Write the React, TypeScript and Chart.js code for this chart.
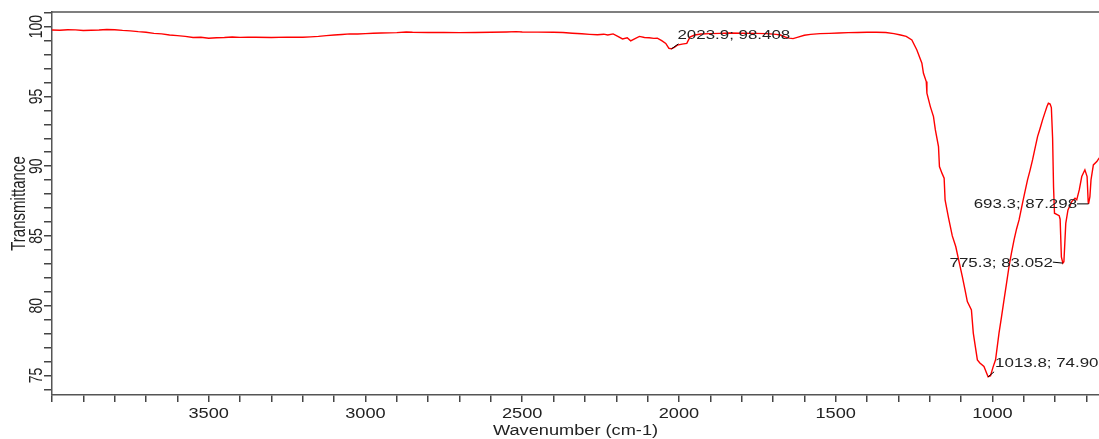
import React, { useEffect, useRef } from 'react';
import { Chart, registerables } from 'chart.js';

Chart.register(...registerables);

// ---- data ----
const wavenumbers = [
  4000, 3975, 3950, 3925, 3900, 3875, 3850, 3825, 3800, 3775, 3750, 3725, 3700, 3675, 3650, 3625, 3600, 3575, 3550, 3525,
  3500, 3475, 3450, 3425, 3400, 3375, 3350, 3300, 3250, 3200, 3175, 3150, 3125, 3100, 3075, 3050, 3025, 3000, 2975, 2950,
  2900, 2870, 2850, 2800, 2750, 2700, 2650, 2600, 2550, 2520, 2500, 2450, 2400, 2370, 2340, 2310, 2285, 2260, 2240, 2227,
  2210, 2195, 2180, 2165, 2154, 2140, 2126, 2110, 2095, 2080, 2069, 2055, 2042, 2032, 2023.9, 2015, 2005, 1990, 1975, 1965,
  1950, 1930, 1900, 1870, 1840, 1800, 1760, 1720, 1690, 1676, 1660, 1648, 1636, 1620, 1600, 1580, 1550, 1520, 1490, 1460,
  1430, 1400, 1370, 1340, 1314, 1293, 1275, 1257, 1241, 1225, 1220, 1211, 1209, 1198, 1188, 1182, 1172, 1169, 1161, 1154,
  1151, 1140, 1128, 1117, 1106, 1096, 1088, 1080, 1067, 1061, 1054, 1048, 1040, 1027, 1019, 1013.8, 1006, 998, 990, 979,
  971, 963, 955, 947, 939, 931, 923, 915, 904, 896, 888, 880, 872, 864, 856, 848, 840, 833, 826, 821.5,
  816, 812, 808, 805, 802, 795, 787, 784, 780, 775.3, 772, 769, 766, 759, 747, 736.5, 731, 723, 715, 705,
  698, 694.5, 693.3, 689, 685.5, 678, 667, 660, 650,
];
const transmittance = [
  99.76, 99.74, 99.78, 99.77, 99.72, 99.74, 99.76, 99.8, 99.78, 99.73, 99.7, 99.64, 99.6, 99.52, 99.48, 99.4, 99.36, 99.3, 99.22, 99.24,
  99.17, 99.2, 99.22, 99.26, 99.23, 99.25, 99.24, 99.22, 99.25, 99.24, 99.27, 99.3, 99.36, 99.4, 99.44, 99.48, 99.47, 99.5, 99.53, 99.55,
  99.57, 99.62, 99.6, 99.58, 99.58, 99.57, 99.58, 99.6, 99.62, 99.64, 99.62, 99.61, 99.6, 99.58, 99.53, 99.49, 99.45, 99.42, 99.46, 99.4,
  99.48, 99.3, 99.12, 99.2, 98.98, 99.15, 99.3, 99.22, 99.2, 99.16, 99.18, 99.0, 98.8, 98.45, 98.408, 98.52, 98.68, 98.75, 98.8, 99.25,
  99.4, 99.47, 99.5, 99.52, 99.54, 99.53, 99.52, 99.5, 99.45, 99.4, 99.25, 99.18, 99.14, 99.25, 99.38, 99.45, 99.5, 99.52, 99.55, 99.57,
  99.58, 99.6, 99.6, 99.58, 99.5, 99.4, 99.3, 99.05, 98.33, 97.38, 96.66, 96.06, 95.23, 94.27, 93.55, 92.6, 91.4, 89.97, 89.5, 89.14,
  87.59, 86.3, 85.0, 84.24, 83.1, 82.09, 81.2, 80.3, 79.7, 78.04, 77.0, 76.12, 75.9, 75.64, 75.2, 74.902, 74.98, 75.6, 76.12, 78.04,
  79.2, 80.42, 81.6, 82.81, 83.8, 84.72, 85.5, 86.15, 87.35, 88.2, 89.02, 89.7, 90.45, 91.3, 92.12, 92.7, 93.32, 93.8, 94.27, 94.51,
  94.45, 94.2, 92.0, 88.5, 86.63, 86.55, 86.45, 86.2, 83.5, 83.052, 83.15, 84.5, 85.9, 86.87, 87.46, 87.7, 87.59, 88.3, 89.26, 89.74,
  89.26, 87.46, 87.298, 87.82, 89.02, 90.09, 90.33, 90.57, 90.7,
];
const peakWavenumbers = [2023.9, 1013.8, 775.3, 693.3];
const peakTransmittance = [98.408, 74.902, 83.052, 87.298];
const xMajorTicks = [3500, 3000, 2500, 2000, 1500, 1000];
const yMajorTicks = [75, 80, 85, 90, 95, 100];
const xAxisTitle = 'Wavenumber (cm-1)';
const yAxisTitle = 'Transmittance';

// ---- layout / style ----
const W = 1099;
const H = 439;
const STRETCH = 1.3;
const FONT = "'Liberation Sans', Arial, sans-serif";
const TEXT_COLOR = '#222';
const AXIS_COLOR = '#555';
const labelPlacement = [
  { dx: 6, dy: -9.5, align: 'left', lx: 7, ly: -5 },
  { dx: 7, dy: -10, align: 'left', lx: 6, ly: -5 },
  { dx: -10, dy: 4, align: 'right', lx: -10, ly: -1 },
  { dx: -11.5, dy: 4.5, align: 'right', lx: -11.5, ly: 0 },
];

function drawText(
  ctx: CanvasRenderingContext2D,
  text: string,
  x: number,
  y: number,
  size: number,
  align: CanvasTextAlign,
  rotate: boolean,
) {
  ctx.save();
  ctx.translate(x, y);
  ctx.scale(STRETCH, 1);
  if (rotate) ctx.rotate(-Math.PI / 2);
  ctx.font = `${size}px ${FONT}`;
  ctx.textAlign = align;
  ctx.textBaseline = 'alphabetic';
  ctx.fillStyle = TEXT_COLOR;
  ctx.fillText(text, 0, 0);
  ctx.restore();
}

const textPlugin = {
  id: 'ftirText',
  afterDraw(chart: any) {
    const { ctx, chartArea, scales } = chart;
    const xs = scales.x;
    const ys = scales.y;
    ctx.save();
    // top frame line
    ctx.strokeStyle = AXIS_COLOR;
    ctx.lineWidth = 1.5;
    ctx.beginPath();
    ctx.moveTo(chartArea.left, chartArea.top);
    ctx.lineTo(chartArea.right, chartArea.top);
    ctx.stroke();

    // x tick labels
    xs.ticks.forEach((t: any) => {
      if (xMajorTicks.includes(t.value)) {
        drawText(ctx, String(t.value), xs.getPixelForValue(t.value), 418, 14, 'center', false);
      }
    });
    // y tick labels
    ys.ticks.forEach((t: any) => {
      if (yMajorTicks.includes(t.value)) {
        drawText(ctx, String(t.value), 42, ys.getPixelForValue(t.value), 14, 'center', true);
      }
    });
    // axis titles
    drawText(ctx, xAxisTitle, (chartArea.left + chartArea.right) / 2, 435, 14, 'center', false);
    drawText(ctx, yAxisTitle, 25, (chartArea.top + chartArea.bottom) / 2, 15, 'center', true);

    // peak annotations
    peakWavenumbers.forEach((wn, i) => {
      const t = peakTransmittance[i];
      const p = labelPlacement[i];
      const px = xs.getPixelForValue(wn);
      const py = ys.getPixelForValue(t);
      ctx.strokeStyle = '#000';
      ctx.lineWidth = 1;
      ctx.beginPath();
      ctx.moveTo(px, py);
      ctx.lineTo(px + p.lx, py + p.ly);
      ctx.stroke();
      drawText(ctx, `${wn.toFixed(1)}; ${t.toFixed(3)}`, px + p.dx, py + p.dy, 13, p.align as CanvasTextAlign, false);
    });
    ctx.restore();
  },
};

export default function App() {
  const canvasRef = useRef<HTMLCanvasElement | null>(null);

  useEffect(() => {
    const canvas = canvasRef.current;
    if (!canvas) return;
    const points = wavenumbers.map((x, i) => ({ x, y: transmittance[i] }));
    const chart = new Chart(canvas, {
      type: 'line',
      data: {
        datasets: [
          {
            data: points,
            borderColor: 'rgb(255, 0, 0)',
            borderWidth: 1.4,
            pointRadius: 0,
            tension: 0,
            fill: false,
          },
        ],
      },
      options: {
        animation: false,
        responsive: false,
        maintainAspectRatio: false,
        layout: { padding: { top: 12, left: 0, right: 0, bottom: 0 } },
        plugins: {
          legend: { display: false },
          tooltip: { enabled: false },
        },
        scales: {
          x: {
            type: 'linear',
            reverse: true,
            min: 660,
            max: 4000,
            afterFit: (s: any) => {
              s.height = H - 395;
            },
            ticks: { stepSize: 100, includeBounds: false, autoSkip: false, display: false },
            grid: {
              drawOnChartArea: false,
              drawTicks: true,
              tickLength: 7,
              color: '#444',
              lineWidth: 1.5,
            },
            border: { display: true, color: AXIS_COLOR, width: 1.5 },
            title: { display: false },
          },
          y: {
            type: 'linear',
            min: 73.6,
            max: 101.05,
            afterFit: (s: any) => {
              s.width = 52;
            },
            ticks: { stepSize: 1, includeBounds: false, autoSkip: false, display: false },
            grid: {
              drawOnChartArea: false,
              drawTicks: true,
              tickLength: 8,
              color: '#444',
              lineWidth: 1.5,
            },
            border: { display: true, color: AXIS_COLOR, width: 1.5 },
            title: { display: false },
          },
        },
      },
      plugins: [textPlugin],
    });
    return () => chart.destroy();
  }, []);

  return (
    <div style={{ position: 'absolute', left: 0, top: 0, width: W, height: H, background: '#fff' }}>
      <canvas ref={canvasRef} width={W} height={H} style={{ display: 'block', width: W, height: H }} />
    </div>
  );
}
